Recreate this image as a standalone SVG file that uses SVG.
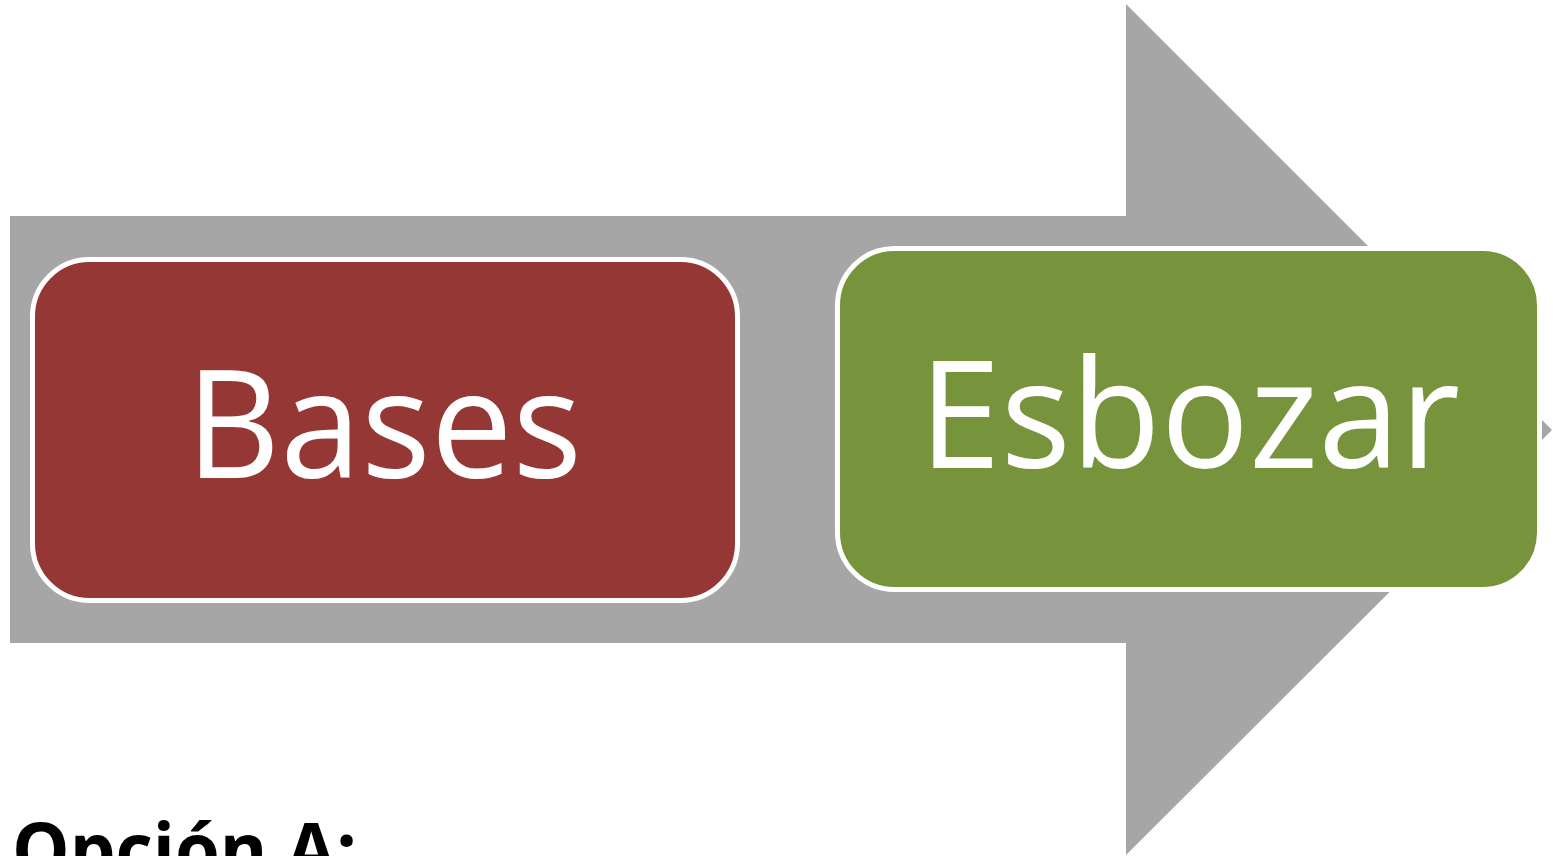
<svg xmlns="http://www.w3.org/2000/svg" width="1553" height="856" viewBox="0 0 1553 856">
<style>
.box{stroke:#ffffff;stroke-width:5}
.lbl{font-family:"Open Sans","Noto Sans","Liberation Sans",sans-serif;font-size:150px;fill:#ffffff}
.title{font-family:"Open Sans","Noto Sans","Liberation Sans",sans-serif;font-size:76px;font-weight:bold;fill:#000000}
</style>
<rect width="1553" height="856" fill="#ffffff"/>
<g id="connectors">
<polygon points="10,216 1126,216 1126,4 1552,430 1126,855 1126,643 10,643" fill="#a6a6a6"/>
</g>
<g id="node-bases">
<rect class="box" x="32.5" y="259.5" width="705" height="341" rx="57" fill="#953735"/>
<text class="lbl" x="186" y="478" textLength="396" lengthAdjust="spacingAndGlyphs">Bases</text>
</g>
<g id="node-esbozar">
<rect class="box" x="837.5" y="248.5" width="702" height="341" rx="57" fill="#77933c"/>
<text class="lbl" x="919" y="468" textLength="541" lengthAdjust="spacingAndGlyphs">Esbozar</text>
</g>
<g id="title">
<text class="title" x="12" y="877" textLength="345" lengthAdjust="spacingAndGlyphs">Opción A:</text>
</g>
</svg>
